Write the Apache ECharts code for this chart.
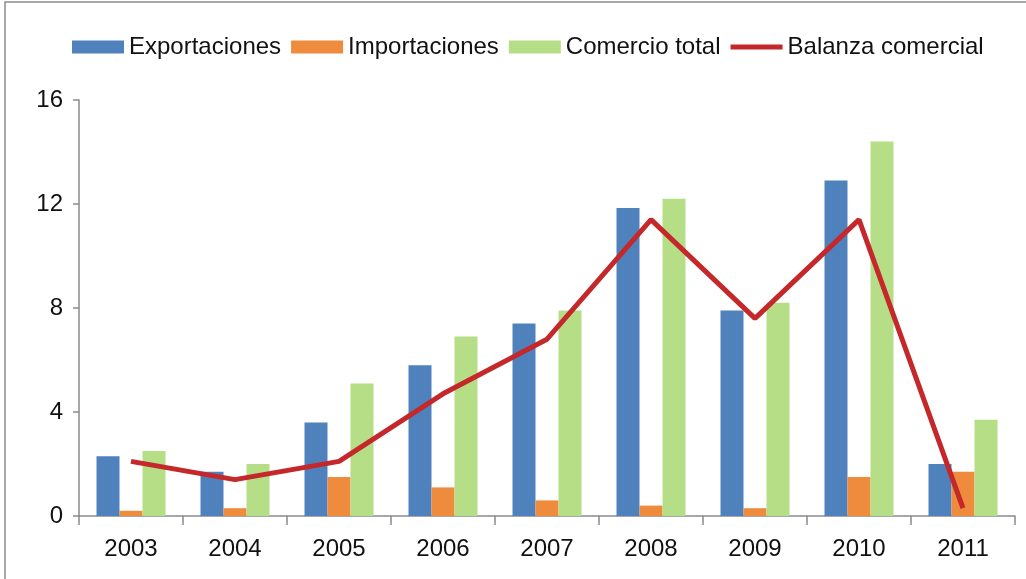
<!DOCTYPE html>
<html>
<head>
<meta charset="utf-8">
<script src="https://cdn.jsdelivr.net/npm/echarts@6/dist/echarts.min.js"></script>
<style>
  html, body { margin: 0; padding: 0; background: #fff; }
  #chart { width: 1026px; height: 579px; }
</style>
</head>
<body>
<div id="chart"></div>
<script>
// datos
const years = ['2003', '2004', '2005', '2006', '2007', '2008', '2009', '2010', '2011']
const exportaciones = [2.3, 1.7, 3.6, 5.8, 7.4, 11.85, 7.9, 12.9, 2.0]
const importaciones = [0.2, 0.3, 1.5, 1.1, 0.6, 0.4, 0.3, 1.5, 1.7]
const comercioTotal = [2.5, 2.0, 5.1, 6.9, 7.9, 12.2, 8.2, 14.4, 3.7]
const balanza = [2.1, 1.4, 2.1, 4.7, 6.8, 11.4, 7.6, 11.4, 0.3]
const yTicks = [0, 4, 8, 12, 16]

const font = '"Liberation Sans", Arial, sans-serif'

const chart = echarts.init(document.getElementById('chart'), null, { renderer: 'canvas' })

const option = {
  animation: false,
  textStyle: { fontFamily: font },
  graphic: [
    {
      type: 'rect',
      z: -10,
      shape: { x: 5, y: 2, width: 1200, height: 800 },
      style: { fill: 'none', stroke: '#8c8c8c', lineWidth: 1.5 }
    }
  ],
  legend: {
    left: 72,
    top: 35,
    padding: 0,
    itemWidth: 52,
    itemHeight: 13,
    itemGap: 10,
    textStyle: { fontFamily: font, fontSize: 24, color: '#111' },
    data: [
      { name: 'Exportaciones', icon: 'rect' },
      { name: 'Importaciones', icon: 'rect' },
      { name: 'Comercio total', icon: 'rect' },
      // linea gruesa sin simbolo, como en el original
      { name: 'Balanza comercial', icon: 'path://M0,0 L52,0 L52,5 L0,5 Z' }
    ]
  },
  grid: { left: 79, right: 11, top: 100, bottom: 63 },
  xAxis: {
    type: 'category',
    data: years,
    axisLine: { lineStyle: { color: '#8a8a8a', width: 1.5 } },
    axisTick: { show: true, length: 9, lineStyle: { color: '#8a8a8a', width: 1.5 } },
    axisLabel: { fontSize: 24, color: '#111', margin: 21, fontFamily: font },
    splitLine: { show: false }
  },
  yAxis: {
    type: 'value',
    min: yTicks[0],
    max: yTicks[yTicks.length - 1],
    interval: 4,
    axisLine: { show: true, lineStyle: { color: '#8a8a8a', width: 1.5 } },
    axisTick: { show: true, length: 6, lineStyle: { color: '#8a8a8a', width: 1.5 } },
    axisLabel: { fontSize: 24, color: '#111', margin: 16, fontFamily: font },
    splitLine: { show: false }
  },
  series: [
    {
      name: 'Exportaciones',
      type: 'bar',
      barWidth: 23,
      barGap: '0%',
      itemStyle: { color: '#4f81bd' },
      data: exportaciones
    },
    {
      name: 'Importaciones',
      type: 'bar',
      barWidth: 23,
      barGap: '0%',
      itemStyle: { color: '#ee8b3c' },
      data: importaciones
    },
    {
      name: 'Comercio total',
      type: 'bar',
      barWidth: 23,
      barGap: '0%',
      itemStyle: { color: '#b5de86' },
      data: comercioTotal
    },
    {
      name: 'Balanza comercial',
      type: 'line',
      symbol: 'none',
      z: 5,
      itemStyle: { color: '#c4282b' },
      lineStyle: { color: '#c4282b', width: 5 },
      data: balanza
    }
  ]
}

chart.setOption(option)
</script>
</body>
</html>
